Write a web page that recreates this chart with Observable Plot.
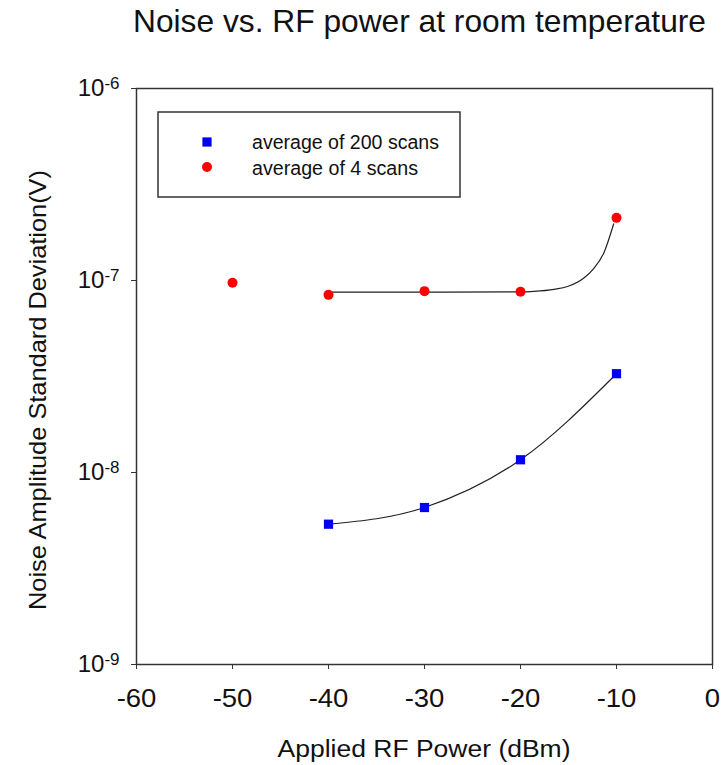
<!DOCTYPE html>
<html>
<head>
<meta charset="utf-8">
<script src="https://cdn.jsdelivr.net/npm/d3@7"></script>
<script src="https://cdn.jsdelivr.net/npm/@observablehq/plot@0.6"></script>
<style>
  html, body { margin: 0; padding: 0; background: #fff; }
  #chart { width: 722px; height: 765px; }
</style>
</head>
<body>
<div id="chart"></div>
<script>
// ---- data ----
const powerDbm = [-40, -30, -20, -10];
const avg200 = [5.38e-9, 6.57e-9, 1.165e-8, 3.27e-8];
const power4 = [-50, -40, -30, -20, -10];
const avg4 = [9.73e-8, 8.42e-8, 8.80e-8, 8.73e-8, 2.12e-7];
// fitted curve for the 4-scan series
const fit4X = [-40, -30, -20, -18.6, -16.5, -15.1, -13.4, -12.4, -11.3, -10.3];
const fit4Y = [8.69e-8, 8.70e-8, 8.72e-8, 8.78e-8, 9.0e-8, 9.3e-8, 1.03e-7, 1.15e-7, 1.40e-7, 1.97e-7];
const xTicks = [-60, -50, -40, -30, -20, -10, 0];
const yTicks = [1e-9, 1e-8, 1e-7, 1e-6];
const seriesNames = ["average of 200 scans", "average of 4 scans"];
const seriesColors = ["#0000ee", "#ff0000"];
const titleText = "Noise vs. RF power at room temperature";
const xLabel = "Applied RF Power (dBm)";
const yLabel = "Noise Amplitude Standard Deviation(V)";

const blue = powerDbm.map((x, i) => ({x, y: avg200[i]}));
const red = power4.map((x, i) => ({x, y: avg4[i]}));
const fit4 = fit4X.map((x, i) => ({x, y: fit4Y[i]}));

const W = 722, H = 765;
const M = {left: 136, right: 10, top: 88, bottom: 101};
const ff = "'Liberation Sans', Arial, sans-serif";

const chart = Plot.plot({
  width: W,
  height: H,
  marginLeft: M.left,
  marginRight: M.right,
  marginTop: M.top,
  marginBottom: M.bottom,
  style: {fontFamily: ff, fontSize: "24px", color: "#1a1a1a", background: "#fff"},
  x: {domain: [-60, 0], label: null},
  y: {type: "log", domain: [1e-9, 1e-6], label: null},
  marks: [
    Plot.axisX({ticks: xTicks, tickFormat: d => String(d), tickSize: 5, tickPadding: 20, label: null, stroke: "#333"}),
    Plot.axisY({ticks: yTicks, tickFormat: d => "10^" + Math.round(Math.log10(d)), tickSize: 5, tickPadding: 12, label: null, stroke: "#333"}),
    Plot.line(blue, {x: "x", y: "y", curve: "monotone-x", stroke: "#222", strokeWidth: 1.2}),
    Plot.line(fit4, {x: "x", y: "y", curve: "monotone-x", stroke: "#222", strokeWidth: 1.2}),
    Plot.dot(blue, {x: "x", y: "y", symbol: "square", r: 5.2, fill: seriesColors[0], stroke: "none"}),
    Plot.dot(red, {x: "x", y: "y", symbol: "circle", r: 5, fill: seriesColors[1], stroke: "none"}),
    Plot.frame({stroke: "#333", strokeWidth: 1.5})
  ]
});

const svg = d3.select(chart);

// tick label sizes (reference glyphs are slightly wide)
svg.selectAll('g[aria-label="x-axis tick label"] text').each(function() {
  const el = d3.select(this);
  el.style("font-size", "25px").attr("fill", "#111");
  const tr = el.attr("transform") || "";
  el.attr("transform", tr + " scale(1.1,1)");
});
svg.selectAll('g[aria-label="y-axis tick label"] text').style("font-size", "24px").attr("fill", "#111");

// superscript exponents on the log axis labels
svg.selectAll('g[aria-label="y-axis tick label"] text').each(function() {
  const t = this.textContent;
  const parts = t.split("^");
  if (parts.length === 2) {
    const el = d3.select(this);
    el.text(parts[0]);
    el.append("tspan").attr("dy", "-7px").style("font-size", "17px").text(parts[1].replace("−", "-"));
  }
});

const cx = (M.left + (W - M.right)) / 2;

// title
svg.append("text")
  .attr("x", 419.5).attr("y", 32)
  .attr("text-anchor", "middle")
  .attr("font-family", ff).attr("font-size", 32).attr("fill", "#111")
  .attr("textLength", 573).attr("lengthAdjust", "spacingAndGlyphs")
  .text(titleText);

// x label
svg.append("text")
  .attr("x", cx).attr("y", 757)
  .attr("text-anchor", "middle")
  .attr("font-family", ff).attr("font-size", 23).attr("fill", "#111")
  .attr("textLength", 293).attr("lengthAdjust", "spacingAndGlyphs")
  .text(xLabel);

// y label
svg.append("text")
  .attr("transform", "translate(46,390) rotate(-90)")
  .attr("text-anchor", "middle")
  .attr("font-family", ff).attr("font-size", 24).attr("fill", "#111")
  .attr("textLength", 440).attr("lengthAdjust", "spacingAndGlyphs")
  .text(yLabel);

// legend
const lg = svg.append("g").attr("aria-label", "legend");
lg.append("rect").attr("x", 158).attr("y", 112).attr("width", 302).attr("height", 85)
  .attr("fill", "#fff").attr("stroke", "#333").attr("stroke-width", 1.5);
lg.append("rect").attr("x", 207 - 4.6).attr("y", 142 - 4.6).attr("width", 9.2).attr("height", 9.2)
  .attr("fill", seriesColors[0]);
lg.append("circle").attr("cx", 207).attr("cy", 167).attr("r", 5).attr("fill", seriesColors[1]);
const legendLens = [187, 166];
[0, 1].forEach(i => {
  lg.append("text").attr("x", 252).attr("y", 149 + i * 25.5)
    .attr("text-anchor", "start")
    .attr("font-family", ff).attr("font-size", 20).attr("fill", "#111")
    .attr("textLength", legendLens[i]).attr("lengthAdjust", "spacingAndGlyphs")
    .text(seriesNames[i]);
});

document.getElementById("chart").appendChild(chart);
</script>
</body>
</html>
